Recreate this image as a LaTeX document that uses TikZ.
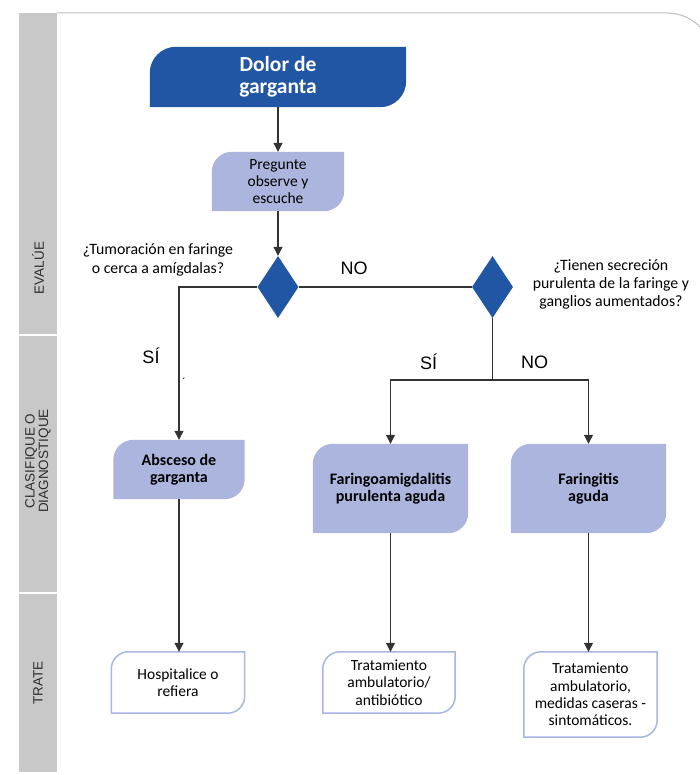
\documentclass[tikz,border=0pt]{standalone}
\usepackage{fontspec}
\setmainfont{Carlito}
\newfontfamily\stripfont{Liberation Sans}
\usetikzlibrary{arrows.meta,shapes.geometric,calc,backgrounds}

\definecolor{darkblue}{HTML}{2156A4}
\definecolor{lavender}{HTML}{ABB5DD}
\definecolor{outlineblue}{HTML}{A9B5E2}
\definecolor{stripgray}{HTML}{C8C8C8}
\definecolor{framegray}{HTML}{BDBDBD}
\definecolor{linegray}{HTML}{333333}
\definecolor{labelgray}{HTML}{2E2E2E}

% Box with rounded top-left and bottom-right corners, drawn around a node.
% #1 node name, #2 corner radius, #3 path options
\newcommand\leafpath[3]{%
  \path[#3] (#1.south west) -- ($(#1.north west)+(0,#2)$)
    .. controls ($(#1.north west)+(0,0.45*#2)$) and ($(#1.north west)+(0.45*#2,0)$) .. ($(#1.north west)+(#2,0)$)
    -- (#1.north east) -- ($(#1.south east)+(0,-#2)$)
    .. controls ($(#1.south east)+(0,-0.45*#2)$) and ($(#1.south east)+(-0.45*#2,0)$) .. ($(#1.south east)+(-#2,0)$)
    -- cycle;}

\tikzset{
  boxtext/.style={inner sep=0pt, align=center, text=black,
    font=\fontsize{15.5}{17.3}\selectfont},
  boldtext/.style={inner sep=0pt, align=center, text=black,
    font=\fontsize{16}{17}\selectfont\bfseries},
  titletext/.style={inner sep=0pt, align=center, text=white,
    font=\fontsize{21.5}{22}\selectfont\bfseries},
  question/.style={inner sep=0pt, align=center, text=black,
    font=\fontsize{15.8}{18.3}\selectfont},
  answer/.style={inner sep=0pt, text=black,
    font=\stripfont\fontsize{18}{18}\selectfont},
  striplabel/.style={inner sep=0pt, align=center, rotate=90, text=labelgray,
    font=\stripfont\fontsize{13.5}{13.5}\selectfont},
  decision/.style={diamond, fill=darkblue, draw=none, inner sep=0pt,
    minimum width=41pt, minimum height=62pt},
  conn/.style={draw=linegray, line width=1.1pt, -{Triangle[length=9pt,width=9pt]}},
  plainline/.style={draw=linegray, line width=1.1pt},
}

\begin{document}
\begin{tikzpicture}[x=1pt,y=-1pt]
\useasboundingbox (0,0) rectangle (700,775);

% outer frame and side strip
\draw[framegray, line width=1pt] (57,13) -- (667,13)
  .. controls (692.4,13) and (713,33.6) .. (713,59) -- (713,775);
\fill[stripgray] (19,13) rectangle (57,772);
\draw[white, line width=1.5pt] (19,335) -- (57,335);
\draw[white, line width=1.5pt] (19,593) -- (57,593);
\node[striplabel] (lab1) at (38,268) {EVALÚE};
\node[striplabel] (lab2) at (38,461) {CLASIFIQUE O\\DIAGNOSTIQUE};
\node[striplabel] (lab3) at (38,683) {TRATE};

% nodes
\node[titletext, minimum width=256pt, minimum height=60pt] (dolor) at (278,77) {Dolor de\\garganta};
\node[boxtext, minimum width=132pt, minimum height=59pt] (preg) at (278,181.5) {Pregunte\\observe y\\escuche};
\node[decision] (d1) at (278,287) {};
\node[decision] (d2) at (492.5,287) {};
\node[question] (q1) at (158,260) {¿Tumoración en faringe\\o cerca a amígdalas?};
\node[question] (q2) at (611,284.5) {¿Tienen secreción\\purulenta de la faringe y\\ganglios aumentados?};

\node[boldtext, minimum width=131pt, minimum height=59pt] (absc) at (179,469.5) {Absceso de\\garganta};
\node[boldtext, minimum width=155pt, minimum height=89pt] (faringo) at (390.5,488.5) {Faringoamigdalitis\\purulenta aguda};
\node[boldtext, minimum width=155pt, minimum height=89pt] (faringitis) at (588.5,488.5) {Faringitis\\aguda};

\node[boxtext, minimum width=133pt, minimum height=61pt] (hosp) at (178,682.5) {Hospitalice o\\refiera};
\node[boxtext, minimum width=132pt, minimum height=61pt] (trat1) at (389,682.5) {Tratamiento\\ambulatorio/\\antibiótico};
\node[boxtext, minimum width=133pt, minimum height=85pt] (trat2) at (590.5,694.5) {Tratamiento\\ambulatorio,\\medidas caseras -\\sintomáticos.};

% branch labels
\node[answer] (no1) at (354,268) {NO};
\node[answer] (si1) at (151,356) {SÍ};
\node[answer] (si2) at (428.5,362) {SÍ};
\node[answer] (no2) at (534.5,362) {NO};
\node[inner sep=0pt, font=\fontsize{11}{11}\selectfont] (tick) at (184,382) {´};

% box shapes behind the text
\begin{pgfonlayer}{background}
  \leafpath{dolor}{26}{fill=darkblue}
  \leafpath{preg}{20}{fill=lavender}
  \leafpath{absc}{20}{fill=lavender}
  \leafpath{faringo}{20}{fill=lavender}
  \leafpath{faringitis}{20}{fill=lavender}
  \leafpath{hosp}{17}{fill=white, draw=outlineblue, line width=1.5pt}
  \leafpath{trat1}{17}{fill=white, draw=outlineblue, line width=1.5pt}
  \leafpath{trat2}{17}{fill=white, draw=outlineblue, line width=1.5pt}
\end{pgfonlayer}

% connectors
\draw[conn] (dolor) -- (preg);
\draw[conn] (preg) -- (d1);
\draw[plainline] (d1.east) -- (d2.west);
\draw[conn] (d1.west) -| (absc.north);
\coordinate (split) at (d2.south |- 0,380);
\draw[plainline] (d2.south) -- (split);
\draw[conn] (split) -| (faringo.north);
\draw[conn] (split) -| (faringitis.north);
\draw[conn] (absc.south) -- (absc.south |- hosp.north);
\draw[conn] (faringo.south) -- (faringo.south |- trat1.north);
\draw[conn] (faringitis.south) -- (faringitis.south |- trat2.north);
\end{tikzpicture}
\end{document}
